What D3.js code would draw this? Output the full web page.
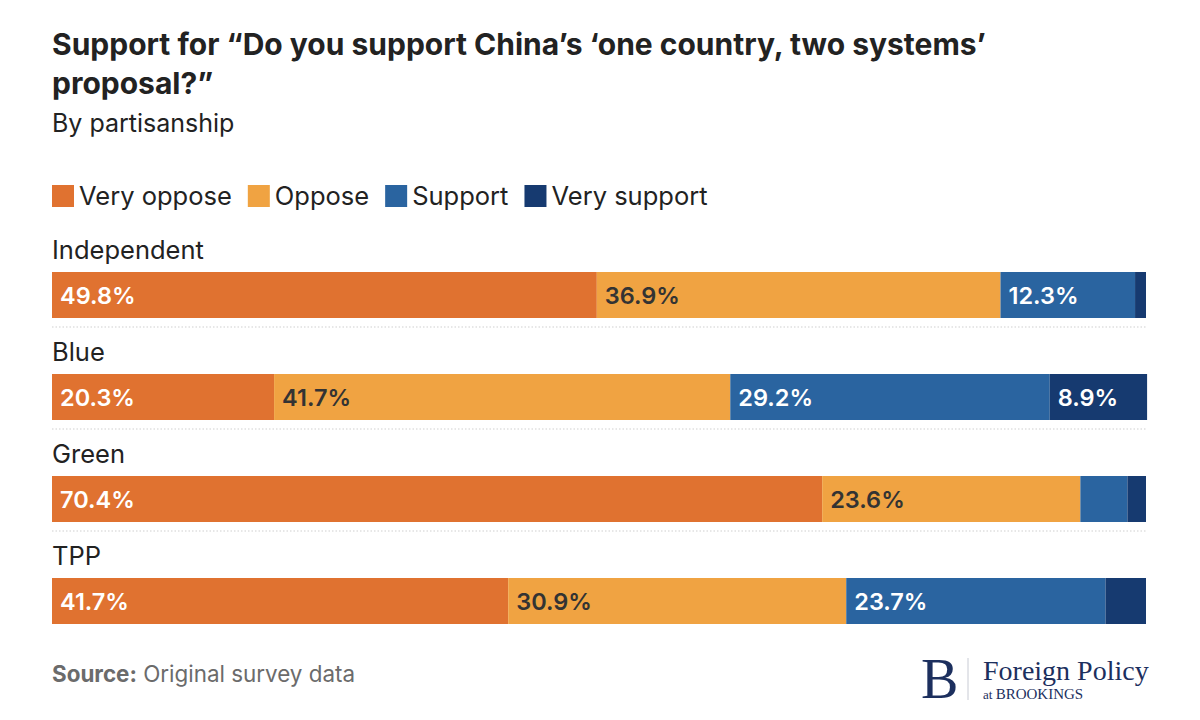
<!DOCTYPE html>
<html>
<head>
<meta charset="utf-8">
<script src="https://cdn.jsdelivr.net/npm/d3@7"></script>
<style>
  body { margin: 0; background: #fff; }
  text { font-family: Inter, "Noto Sans", sans-serif; }
  text.serif { font-family: "Liberation Serif", "DejaVu Serif", serif; }
</style>
</head>
<body>
<div id="chart"></div>
<script>
const groups = ["Independent", "Blue", "Green", "TPP"];
const keys = ["Very oppose", "Oppose", "Support", "Very support"];
const veryOppose = [49.8, 20.3, 70.4, 41.7];
const oppose = [36.9, 41.7, 23.6, 30.9];
const support = [12.3, 29.2, 4.3, 23.7];
const verySupport = [1.0, 8.9, 1.7, 3.7];
const colors = ["#e07230", "#f0a342", "#2a64a0", "#163a70"];
const labelColors = ["#fff", "#333", "#fff", "#fff"];

const W = 1200, H = 720;
const left = 52, right = 1146;

const rows = groups.map((g, i) => ({
    group: g,
    "Very oppose": veryOppose[i],
    "Oppose": oppose[i],
    "Support": support[i],
    "Very support": verySupport[i]
}));

const svg = d3.select("#chart").append("svg")
    .attr("width", W)
    .attr("height", H);

// title
svg.append("text").attr("x", 52).attr("y", 55)
    .attr("font-size", 30).attr("font-weight", 700).attr("fill", "#222")
    .text("Support for \u201cDo you support China\u2019s \u2018one country, two systems\u2019");
svg.append("text").attr("x", 52).attr("y", 94)
    .attr("font-size", 30).attr("font-weight", 700).attr("fill", "#222")
    .text("proposal?\u201d");
svg.append("text").attr("x", 52).attr("y", 132)
    .attr("font-size", 25).attr("fill", "#222")
    .text("By partisanship");

// legend
const legend = svg.append("g").attr("transform", "translate(52,185)");
let lx = 0;
keys.forEach((k, i) => {
    const g = legend.append("g").attr("transform", "translate(" + lx + ",0)");
    g.append("rect").attr("width", 22).attr("height", 22).attr("fill", colors[i]);
    const t = g.append("text").attr("x", 27).attr("y", 20)
        .attr("font-size", 25.5).attr("fill", "#222").text(k);
    lx += 27 + t.node().getComputedTextLength() + 16;
});

const x = d3.scaleLinear().domain([0, 100]).range([left, right]);
const y = d3.scaleBand().domain(groups).range([230, 638]).paddingInner(0).paddingOuter(0);

const stack = d3.stack().keys(keys)(rows);

const rowG = svg.selectAll(".row")
    .data(rows)
    .enter().append("g")
    .attr("class", "row")
    .attr("transform", d => "translate(0," + y(d.group) + ")");

rowG.append("text")
    .attr("x", left).attr("y", 29)
    .attr("font-size", 25.5).attr("fill", "#222")
    .text(d => d.group);

rowG.filter((d, i) => i < groups.length - 1)
    .append("line")
    .attr("x1", left).attr("x2", right)
    .attr("y1", 97).attr("y2", 97)
    .attr("stroke", "#cfcfcf").attr("stroke-width", 1)
    .attr("stroke-dasharray", "1.5,2");

const barY = 42, barH = 46;

stack.forEach((layer, k) => {
    layer.forEach((seg, i) => {
        const row = rowG.filter((d, j) => j === i);
        row.append("rect")
            .attr("x", x(seg[0]))
            .attr("y", barY)
            .attr("width", x(seg[1]) - x(seg[0]))
            .attr("height", barH)
            .attr("fill", colors[k]);
        const v = seg[1] - seg[0];
        if (v >= 6) {
            row.append("text")
                .attr("x", x(seg[0]) + 8)
                .attr("y", barY + barH / 2 + 8.5)
                .attr("font-size", 23.5).attr("font-weight", 600)
                .attr("fill", labelColors[k])
                .text(v.toFixed(1) + "%");
        }
    });
});

// footer
const src = svg.append("text").attr("x", 52).attr("y", 682)
    .attr("font-size", 22.4).attr("fill", "#6b6b6b");
src.append("tspan").attr("font-weight", 700).text("Source:");
src.append("tspan").text(" Original survey data");

const logo = svg.append("g");
logo.append("text").attr("class", "serif").attr("x", 921).attr("y", 698)
    .attr("font-size", 56).attr("fill", "#1c2f5e").text("B");
logo.append("line").attr("x1", 968).attr("x2", 968).attr("y1", 658).attr("y2", 700)
    .attr("stroke", "#c8cbd4").attr("stroke-width", 1);
logo.append("text").attr("class", "serif").attr("x", 983).attr("y", 680)
    .attr("font-size", 28).attr("fill", "#1c2f5e").text("Foreign Policy");
logo.append("text").attr("class", "serif").attr("x", 983).attr("y", 699)
    .attr("font-size", 13).attr("fill", "#1c2f5e")
    .text("at ")
    .append("tspan").attr("font-size", 15).text("BROOKINGS");
</script>
</body>
</html>
